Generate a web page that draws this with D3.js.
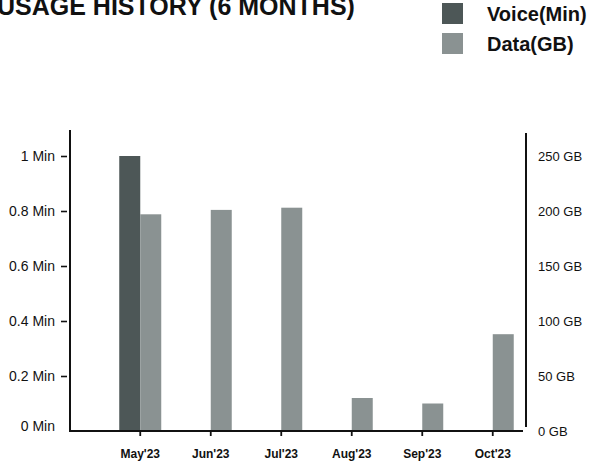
<!DOCTYPE html>
<html>
<head>
<meta charset="utf-8">
<script src="https://cdn.jsdelivr.net/npm/d3@7"></script>
<style>
  html, body { margin: 0; padding: 0; background: #fff; }
  svg { display: block; font-family: "Liberation Sans", Arial, sans-serif; }
</style>
</head>
<body>
<svg id="chart" width="602" height="464"></svg>
<script>
const months = ["May'23", "Jun'23", "Jul'23", "Aug'23", "Sep'23", "Oct'23"];
const voiceMin = [1, 0, 0, 0, 0, 0];
const dataGB = [197, 201, 203, 30, 25, 88];
const leftTicks = [0, 0.2, 0.4, 0.6, 0.8, 1];
const rightTicks = [0, 50, 100, 150, 200, 250];
const seriesNames = ["Voice(Min)", "Data(GB)"];
const seriesColors = ["#4d5757", "#8a9292"];

const svg = d3.select("#chart");

// Title (partially cut at top/left as in reference)
svg.append("text")
  .attr("x", -3).attr("y", 15)
  .attr("font-size", 25).attr("font-weight", "bold").attr("fill", "#111")
  .text("USAGE HISTORY (6 MONTHS)");

// Legend
const legend = svg.append("g");
seriesNames.forEach((name, i) => {
  legend.append("rect")
    .attr("x", 442).attr("y", 3 + i * 30).attr("width", 21).attr("height", 21)
    .attr("fill", seriesColors[i]);
  legend.append("text")
    .attr("x", 487).attr("y", 21 + i * 30)
    .attr("font-size", 20).attr("font-weight", "bold").attr("fill", "#111")
    .text(name);
});

// Scales
const x = d3.scaleBand().domain(months).range([105, 528]).padding(0);
const inner = d3.scaleBand().domain(["voice", "data"]).range([-21, 21]).padding(0);
const yL = d3.scaleLinear().domain([0, 1]).range([431, 156]);
const yR = d3.scaleLinear().domain([0, 250]).range([431, 156]);
const cx = m => x(m) + x.bandwidth() / 2;

// Bars
const barG = svg.append("g");
barG.selectAll("rect.voice").data(months.map((m, i) => ({ m, v: voiceMin[i] })).filter(d => d.v > 0))
  .join("rect").attr("class", "voice")
  .attr("x", d => cx(d.m) + inner("voice"))
  .attr("width", inner.bandwidth())
  .attr("y", d => yL(d.v))
  .attr("height", d => yL(0) - yL(d.v))
  .attr("fill", seriesColors[0]);
barG.selectAll("rect.data").data(months.map((m, i) => ({ m, v: dataGB[i] })))
  .join("rect").attr("class", "data")
  .attr("x", d => cx(d.m) + inner("data"))
  .attr("width", inner.bandwidth())
  .attr("y", d => yR(d.v))
  .attr("height", d => yR(0) - yR(d.v))
  .attr("fill", seriesColors[1]);

// Left axis
const gl = svg.append("g").attr("transform", "translate(67,0)")
  .call(d3.axisLeft(yL).tickValues(leftTicks).tickFormat(d => d + " Min").tickSize(6).tickPadding(6));
gl.select(".domain").remove();
gl.selectAll("text").attr("font-size", 14).attr("fill", "#111").attr("font-family", null);
gl.selectAll(".tick line").attr("stroke", "#111").attr("stroke-width", 1.6);
gl.selectAll(".tick").filter(d => d === 0).select("line").remove();
gl.selectAll(".tick").filter(d => d === 0).select("text").attr("dy", "-0.05em");
svg.append("line").attr("x1", 70).attr("x2", 70).attr("y1", 130).attr("y2", 432)
  .attr("stroke", "#111").attr("stroke-width", 2);

// Right axis
const gr = svg.append("g").attr("transform", "translate(526,0)")
  .call(d3.axisRight(yR).tickValues(rightTicks).tickFormat(d => d + " GB").tickSize(0).tickPadding(12));
gr.select(".domain").remove();
gr.selectAll("text").attr("font-size", 13).attr("fill", "#111").attr("font-family", null);
svg.append("line").attr("x1", 526).attr("x2", 526).attr("y1", 133).attr("y2", 427)
  .attr("stroke", "#111").attr("stroke-width", 2);

// Bottom axis
const gb = svg.append("g").attr("transform", "translate(0,431)")
  .call(d3.axisBottom(x).tickSize(5).tickPadding(13));
gb.select(".domain").remove();
gb.selectAll("text").attr("font-size", 12).attr("font-weight", "bold").attr("fill", "#111").attr("font-family", null);
gb.selectAll(".tick line").attr("stroke", "#111").attr("stroke-width", 1.8);
svg.append("line").attr("x1", 70).attr("x2", 523).attr("y1", 431).attr("y2", 431)
  .attr("stroke", "#111").attr("stroke-width", 2);
</script>
</body>
</html>
